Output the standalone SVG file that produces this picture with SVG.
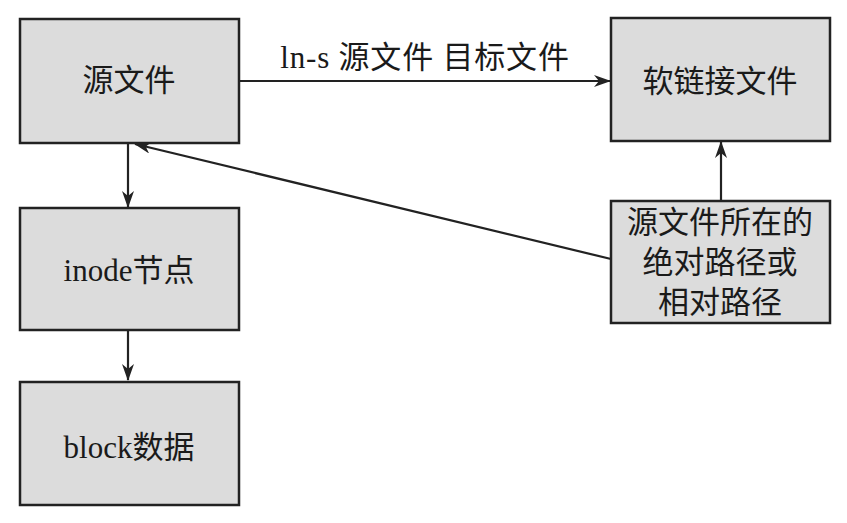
<svg xmlns="http://www.w3.org/2000/svg" width="847" height="523" viewBox="0 0 847 523">
<style>
.box{fill:#dcdcdc;stroke:#222;stroke-width:2.5}
.t{font-family:"Liberation Serif","Noto Sans CJK SC",serif;font-size:31px;fill:#1a1a1a;text-anchor:middle;dominant-baseline:central}
.c{stroke:#222;stroke-width:2.2;fill:none;marker-end:url(#ah)}
</style>
<defs>
<marker id="ah" markerWidth="17" markerHeight="12" refX="16" refY="6" orient="auto" markerUnits="userSpaceOnUse">
<path d="M0,0 L17,6 L0,12 L5,6 Z" fill="#222"/>
</marker>
</defs>
<rect width="847" height="523" fill="#fff"/>
<g id="connectors">
<line class="c" x1="239" y1="81" x2="610" y2="81"/>
<line class="c" x1="128" y1="143" x2="128" y2="207"/>
<line class="c" x1="128" y1="330" x2="128" y2="380"/>
<line class="c" x1="721" y1="200" x2="721" y2="142"/>
<line class="c" x1="611" y1="259" x2="135" y2="144"/>
<text class="t" x="425" y="57" letter-spacing="0.8">ln-s 源文件 目标文件</text>
</g>
<g id="src"><rect class="box" x="20" y="19" width="219" height="124"/><text class="t" x="129" y="80">源文件</text></g>
<g id="symlink"><rect class="box" x="611" y="18" width="219" height="123"/><text class="t" x="720" y="81">软链接文件</text></g>
<g id="path"><rect class="box" x="611" y="201" width="219" height="122"/>
<text class="t" x="720" y="222">源文件所在的</text>
<text class="t" x="720" y="262">绝对路径或</text>
<text class="t" x="720" y="302">相对路径</text></g>
<g id="inode"><rect class="box" x="20" y="208" width="219" height="122"/><text class="t" x="129" y="270">inode节点</text></g>
<g id="block"><rect class="box" x="20" y="382" width="219" height="123"/><text class="t" x="129" y="447">block数据</text></g>
</svg>
